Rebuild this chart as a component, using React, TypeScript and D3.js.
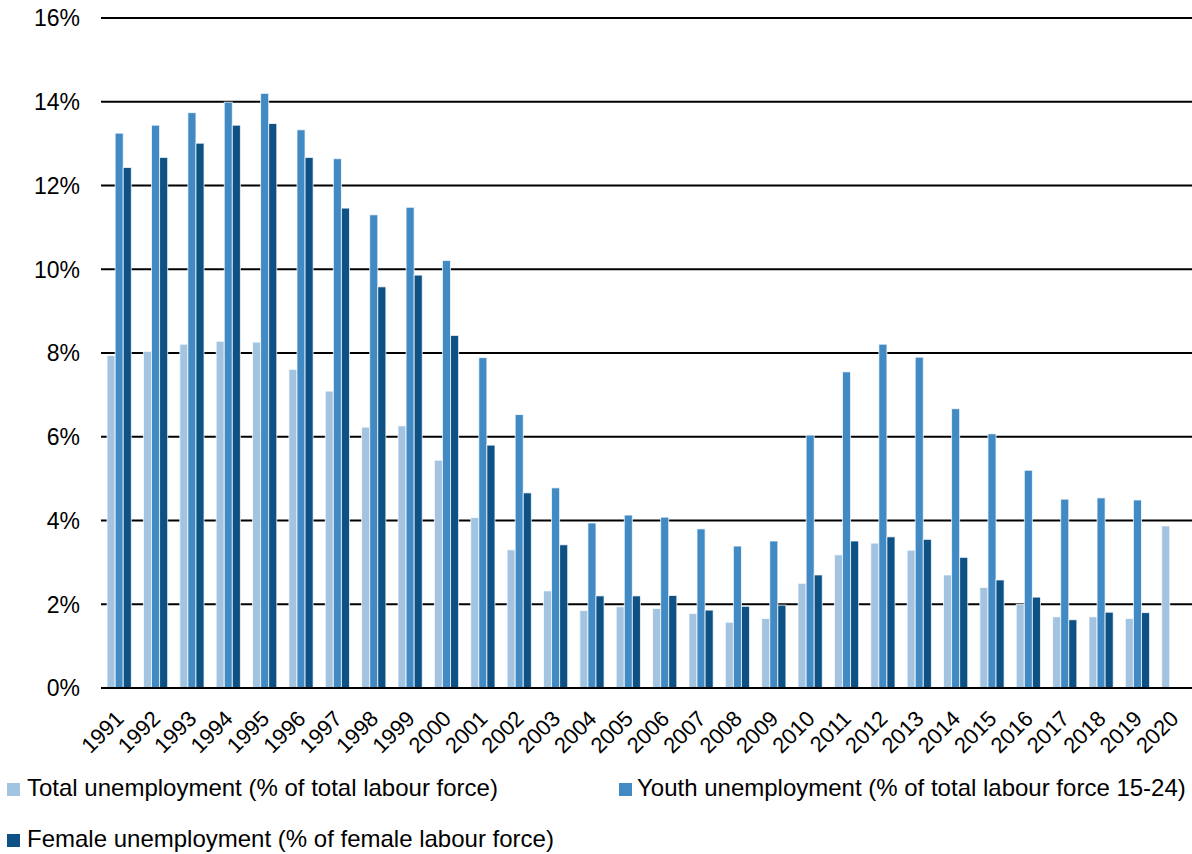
import React from "react";
import * as d3 from "d3";

// Unemployment rates by year, in percent
const years: string[] = [
  "1991", "1992", "1993", "1994", "1995", "1996", "1997", "1998", "1999", "2000",
  "2001", "2002", "2003", "2004", "2005", "2006", "2007", "2008", "2009", "2010",
  "2011", "2012", "2013", "2014", "2015", "2016", "2017", "2018", "2019", "2020",
];

const totalRate: (number | null)[] = [
  7.94, 8.04, 8.21, 8.28, 8.26, 7.61, 7.09, 6.23, 6.26, 5.44,
  4.07, 3.3, 2.32, 1.85, 1.94, 1.9, 1.78, 1.57, 1.66, 2.5,
  3.18, 3.46, 3.29, 2.7, 2.4, 2.0, 1.7, 1.7, 1.66, 3.87,
];

const youthRate: (number | null)[] = [
  13.25, 13.44, 13.74, 13.99, 14.2, 13.33, 12.64, 11.3, 11.48, 10.21,
  7.89, 6.53, 4.78, 3.94, 4.13, 4.08, 3.8, 3.39, 3.51, 6.04,
  7.55, 8.21, 7.9, 6.67, 6.07, 5.2, 4.51, 4.54, 4.49, null,
];

const femaleRate: (number | null)[] = [
  12.43, 12.67, 13.01, 13.44, 13.48, 12.67, 11.46, 9.58, 9.86, 8.42,
  5.8, 4.66, 3.42, 2.2, 2.2, 2.21, 1.86, 1.95, 1.98, 2.7,
  3.51, 3.61, 3.55, 3.12, 2.58, 2.17, 1.63, 1.81, 1.8, null,
];

const seriesNames: string[] = [
  "Total unemployment (% of total labour force)",
  "Youth unemployment (% of total labour force 15-24)",
  "Female unemployment (% of female labour force)",
];

const yTicks: number[] = [0, 2, 4, 6, 8, 10, 12, 14, 16];

const COLORS = ["#A3C4E1", "#428AC4", "#0E5185"];
const FONT = "'Liberation Sans', Arial, sans-serif";

const W = 1192;
const H = 854;
const left = 101;
const right = 1192;
const top = 18;
const bottom = 688;

export default function App() {
  const series = [totalRate, youthRate, femaleRate];

  const x = d3.scaleBand<string>().domain(years).range([left, right]).paddingInner(0).paddingOuter(0);
  const y = d3.scaleLinear().domain([0, 16]).range([bottom, top]);

  const cat = x.bandwidth();
  // three bars per year, gap of 150% of a bar width between groups
  const barW = cat / 4.5;
  const groupOffset = (cat - 3 * barW) / 2;

  const legendItems = [
    { name: seriesNames[0], color: COLORS[0], mx: 7, tx: 27, base: 796 },
    { name: seriesNames[1], color: COLORS[1], mx: 619, tx: 637, base: 796 },
    { name: seriesNames[2], color: COLORS[2], mx: 7, tx: 27, base: 847 },
  ];

  return (
    <svg
      width={W}
      height={H}
      style={{ position: "absolute", left: 0, top: 0, background: "#fff" }}
      fontFamily={FONT}
    >
      {/* horizontal gridlines */}
      {yTicks.slice(1).map((t) => (
        <line key={"g" + t} x1={left} x2={right} y1={y(t)} y2={y(t)} stroke="#000" strokeWidth={2} />
      ))}

      {/* y tick labels */}
      {yTicks.map((t) => (
        <text
          key={"yt" + t}
          x={80}
          y={y(t)}
          dy="0.36em"
          textAnchor="end"
          fontSize={23}
          fill="#000"
        >
          {t + "%"}
        </text>
      ))}

      {/* bars */}
      {series.map((vals, si) =>
        years.map((yr, i) => {
          const v = vals[i];
          if (v == null) return null;
          const bx = (x(yr) as number) + groupOffset + si * barW;
          return (
            <rect
              key={`b${si}-${i}`}
              x={bx}
              y={y(v)}
              width={barW}
              height={y(0) - y(v)}
              fill={COLORS[si]}
              stroke="rgba(255,255,255,0.75)"
              strokeWidth={1}
            />
          );
        })
      )}

      {/* x axis line */}
      <line x1={left} x2={right} y1={y(0)} y2={y(0)} stroke="#000" strokeWidth={2} />

      {/* x tick labels, rotated 45 degrees */}
      {years.map((yr) => {
        const cx = (x(yr) as number) + cat / 2 + 6;
        const cy = 720;
        return (
          <text
            key={"xl" + yr}
            transform={`translate(${cx},${cy}) rotate(-45)`}
            textAnchor="end"
            fontSize={22}
            fill="#000"
          >
            {yr}
          </text>
        );
      })}

      {/* legend */}
      {legendItems.map((it) => (
        <g key={it.name}>
          <rect x={it.mx} y={it.base - 13} width={13} height={13} fill={it.color} />
          <text x={it.tx} y={it.base} fontSize={24} fill="#000">
            {it.name}
          </text>
        </g>
      ))}
    </svg>
  );
}
